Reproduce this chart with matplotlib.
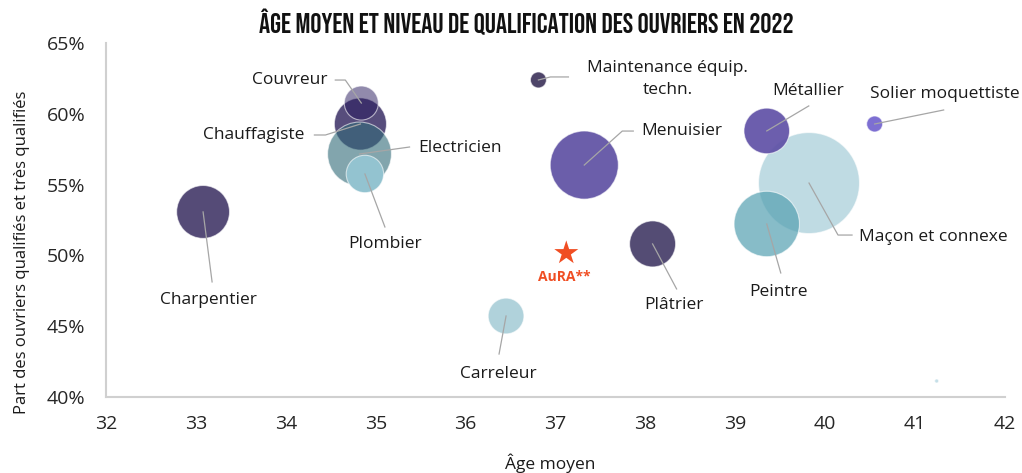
import matplotlib
matplotlib.use("Agg")
import matplotlib.pyplot as plt
from matplotlib.lines import Line2D
from matplotlib.transforms import IdentityTransform
import numpy as np

# ---------------- data ----------------
metiers = ["Charpentier", "Chauffagiste", "Couvreur", "Electricien", "Plombier",
           "Maintenance équip.\ntechn.", "Menuisier", "Plâtrier", "Carreleur",
           "Maçon et connexe", "Métallier", "Peintre", "Solier moquettiste", ""]
age_moyen = [33.08, 34.83, 34.84, 34.82, 34.88, 36.81, 37.32, 38.08, 36.45,
             39.82, 39.35, 39.35, 40.55, 41.24]
part_qualifies = [53.07, 59.28, 60.76, 57.16, 55.75, 62.39, 56.38, 50.81, 45.72,
                  55.11, 58.79, 52.22, 59.28, 41.13]
effectifs = [7000, 6800, 2900, 10200, 3500, 640, 11600, 5300, 3200,
             25500, 5200, 10700, 640, 40]

aura_label = "AuRA**"
aura_age = 37.12
aura_part = 50.17

x_ticks = [32, 33, 34, 35, 36, 37, 38, 39, 40, 41, 42]
y_ticks = [40, 45, 50, 55, 60, 65]

title = "ÂGE MOYEN ET NIVEAU DE QUALIFICATION DES OUVRIERS EN 2022"
x_label = "Âge moyen"
y_label = "Part des ouvriers qualifiés et très qualifiés"

# ---------------- styles ----------------
bubble_colors = ["#554b77", "#574d7c", "#24165b", "#336c79", "#93c3d0",
                 "#4e4569", "#6b5eaa", "#544c74", "#b0d2db",
                 "#bfdbe3", "#5f50a6", "#54a0b1", "#7d6fd2", "#c5dfe8"]
bubble_alpha = [1, 1, 0.5, 0.61, 1, 1, 1, 1, 1, 1, 0.92, 0.7, 1, 1]
size_scale = 0.20736

# label layout: offsets in pixels (image coords, y down) relative to bubble centre
label_layout = {
    "Charpentier": dict(line=[(9, 70)], text=(5, 88), ha="center"),
    "Chauffagiste": dict(line=[(-35, 11), (-46, 11)], text=(-56, 11), ha="right"),
    "Couvreur": dict(line=[(-16, -23), (-26, -23)], text=(-34, -23), ha="right"),
    "Electricien": dict(line=[(50, -7)], text=(59, -6), ha="left"),
    "Plombier": dict(line=[(20, 53)], text=(20, 70), ha="center"),
    "Maintenance équip.\ntechn.": dict(line=[(12, -3), (30, -3)], text=(129, -1), ha="center"),
    "Menuisier": dict(line=[(38, -34), (49, -34)], text=(57, -34), ha="left"),
    "Plâtrier": dict(line=[(24, 45)], text=(21, 61), ha="center"),
    "Carreleur": dict(line=[(-7, 38)], text=(-8, 58), ha="center"),
    "Maçon et connexe": dict(line=[(29, 52), (43, 52)], text=(50, 54), ha="left"),
    "Métallier": dict(line=[(42, -25)], text=(41, -40), ha="center"),
    "Peintre": dict(line=[(14, 49)], text=(12, 68), ha="center"),
    "Solier moquettiste": dict(line=[(69, -14)], text=(70, -30), ha="center"),
}

LABEL_FONT = ["Open Sans", "DejaVu Sans"]
TITLE_FONT = ["Bebas Neue", "DejaVu Sans"]

W, H, DPI = 10.22, 4.73, 100
fig = plt.figure(figsize=(W, H), dpi=DPI)
ax = fig.add_axes([106 / 1022, 1 - 397 / 473, (1005 - 106) / 1022, (397 - 43) / 473])

ax.set_xlim(x_ticks[0], x_ticks[-1])
ax.set_ylim(y_ticks[0], y_ticks[-1])

rgba = [matplotlib.colors.to_rgba(c, a) for c, a in zip(bubble_colors, bubble_alpha)]
edge = [(1, 1, 1, 0.6)] * len(rgba)
ax.scatter(age_moyen, part_qualifies, s=np.array(effectifs) * size_scale,
           c=rgba, edgecolors=edge, linewidths=0.8, zorder=3)

ax.scatter([aura_age], [aura_part], marker="*", s=330, color="#f04e23",
           edgecolors="none", zorder=4)
ax.annotate(aura_label, xy=(aura_age, aura_part), xytext=(-2 * 0.72, -24 * 0.72),
            textcoords="offset points", ha="center", va="center",
            color="#f04e23", fontsize=10, fontweight="bold", family=LABEL_FONT,
            zorder=5)

ax.set_xticks(x_ticks)
ax.set_xticklabels([str(v) for v in x_ticks])
ax.set_yticks(y_ticks)
ax.set_yticklabels([f"{v}%" for v in y_ticks])
ax.tick_params(length=0, labelsize=14, colors="#262626", pad=13)
ax.tick_params(axis="y", pad=15)
for lab in ax.get_xticklabels() + ax.get_yticklabels():
    lab.set_family(LABEL_FONT)

for s in ["top", "right"]:
    ax.spines[s].set_visible(False)
for s in ["left", "bottom"]:
    ax.spines[s].set_color("#d0d0d0")
    ax.spines[s].set_linewidth(1.5)

# labels with leader lines
fig.canvas.draw()
for name, xv, yv in zip(metiers, age_moyen, part_qualifies):
    if name not in label_layout:
        continue
    lay = label_layout[name]
    cx, cy = ax.transData.transform((xv, yv))
    xs = [cx] + [cx + dx for dx, dy in lay["line"]]
    ys = [cy] + [cy - dy for dx, dy in lay["line"]]
    fig.add_artist(Line2D(xs, ys, transform=IdentityTransform(), color="#a6a6a6",
                          linewidth=0.9, zorder=6))
    tx, ty = lay["text"]
    ax.annotate(name, xy=(xv, yv), xytext=(tx * 0.72, -ty * 0.72),
                textcoords="offset points", ha=lay["ha"], va="center",
                multialignment="center", linespacing=1.5,
                fontsize=12.5, color="#1a1a1a", family=LABEL_FONT, zorder=7)

fig.text(526 / 1022, 1 - 33 / 473, title, ha="center", va="baseline",
         fontsize=20, family=TITLE_FONT, color="#111111")
fig.text(550 / 1022, 1 - 463 / 473, x_label, ha="center", va="center",
         fontsize=12.5, family=LABEL_FONT, color="#1a1a1a")
fig.text(22 / 1022, 1 - 252 / 473, y_label, ha="center", va="center", rotation=90,
         fontsize=12, family=LABEL_FONT, color="#1a1a1a")

fig.savefig("out.png", dpi=DPI)
